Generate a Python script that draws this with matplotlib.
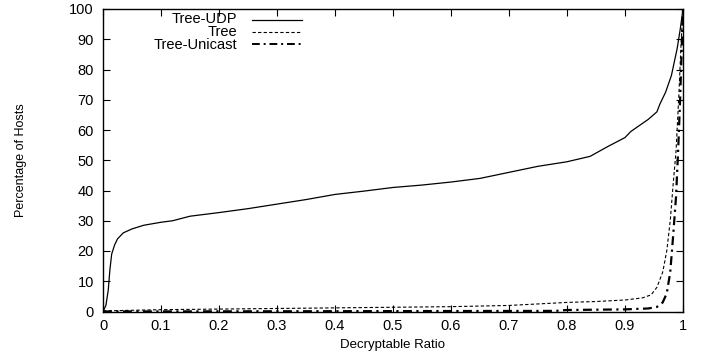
import matplotlib
matplotlib.use("Agg")
import matplotlib.pyplot as plt
from matplotlib.lines import Line2D

plt.rcParams['font.family'] = ['Liberation Sans', 'DejaVu Sans']

# Data
udp_x = [0, 0.005, 0.009, 0.012, 0.015, 0.02, 0.025, 0.035, 0.05, 0.07, 0.1, 0.12, 0.15,
         0.2, 0.25, 0.3, 0.35, 0.4, 0.45, 0.5, 0.55, 0.6, 0.65, 0.7, 0.75, 0.8, 0.84,
         0.87, 0.9, 0.91, 0.94, 0.955, 0.96, 0.97, 0.98, 0.99, 0.995, 1.0]
udp_y = [0, 2, 7, 14, 19, 22, 24, 26, 27.3, 28.5, 29.5, 30, 31.5,
         32.7, 34, 35.5, 37, 38.7, 39.8, 41, 41.8, 42.8, 44, 46, 48, 49.5, 51.3,
         54.5, 57.5, 59.5, 63.5, 66, 68.5, 72.5, 78, 87, 93, 100]

tree_x = [0, 0.05, 0.1, 0.2, 0.3, 0.4, 0.5, 0.6, 0.7, 0.75, 0.8, 0.85, 0.9, 0.93,
          0.945, 0.955, 0.965, 0.972, 0.978, 0.983, 0.988, 0.993, 0.997, 1.0]
tree_y = [0.2, 0.4, 0.6, 0.8, 1.0, 1.2, 1.4, 1.6, 2.0, 2.5, 3.0, 3.3, 3.8, 4.5,
          5.5, 8, 13, 20, 30, 42, 53, 72, 90, 100]

uni_x = [0, 0.78, 0.8, 0.85, 0.9, 0.94, 0.955, 0.965, 0.972, 0.978, 0.983, 0.988,
         0.992, 0.995, 0.998, 1.0]
uni_y = [0, 0.2, 0.5, 0.6, 0.7, 1.0, 1.5, 3, 6, 13, 25, 38, 55, 70, 88, 100]

labels = ["Tree-UDP", "Tree", "Tree-Unicast"]
x_ticks = [0, 0.1, 0.2, 0.3, 0.4, 0.5, 0.6, 0.7, 0.8, 0.9, 1]
x_tick_labels = ["0", "0.1", "0.2", "0.3", "0.4", "0.5", "0.6", "0.7", "0.8", "0.9", "1"]
y_ticks = [0, 10, 20, 30, 40, 50, 60, 70, 80, 90, 100]

W, H = 704, 358
fig = plt.figure(figsize=(W / 100, H / 100), dpi=100)
ax_l, ax_r, ax_t, ax_b = 103, 683, 9, 311.5
ax = fig.add_axes([ax_l / W, 1 - ax_b / H, (ax_r - ax_l) / W, (ax_b - ax_t) / H])

styles = [
    dict(color='black', lw=0.9, linestyle='-'),
    dict(color='black', lw=0.8, linestyle=(0, (3, 2))),
    dict(color='black', lw=1.6, linestyle=(0, (4, 2, 1, 2))),
]
ax.plot(udp_x, udp_y, **styles[0])
ax.plot(tree_x, tree_y, **styles[1])
ax.plot(uni_x, uni_y, **styles[2])

ax.set_xlim(0, 1)
ax.set_ylim(0, 100)
ax.set_xticks(x_ticks)
ax.set_xticklabels(x_tick_labels)
ax.set_yticks(y_ticks)
ax.tick_params(direction='in', length=5, width=0.8, top=True, right=True,
               labelsize=10.5)
ax.tick_params(axis='x', pad=5.5)
ax.tick_params(axis='y', pad=6.5)
for s in ax.spines.values():
    s.set_linewidth(1.0)

ax.set_xlabel("Decryptable Ratio", fontsize=9.5, labelpad=4)
fig.text(21.5 / W, 1 - 160 / H, "Percentage of Hosts", rotation=90, fontsize=9,
         ha='center', va='center')

# Manual gnuplot-style legend (labels right-aligned, samples to the right)
text_right = 237
line_x0, line_x1 = 252, 302
rows_px = [20, 32, 44]
fig.text(text_right / W, 1 - rows_px[1] / H, "\n".join(labels), ha='right',
         va='center', multialignment='right', fontsize=10.5, linespacing=0.9)
for lab, st, ypx in zip(labels, styles, rows_px):
    yf = 1 - ypx / H
    st2 = dict(st)
    if lab == "Tree-Unicast":
        st2['lw'] = 1.4
    fig.add_artist(Line2D([line_x0 / W, line_x1 / W], [yf, yf],
                          transform=fig.transFigure, **st2))

fig.savefig("out.png", dpi=100)
